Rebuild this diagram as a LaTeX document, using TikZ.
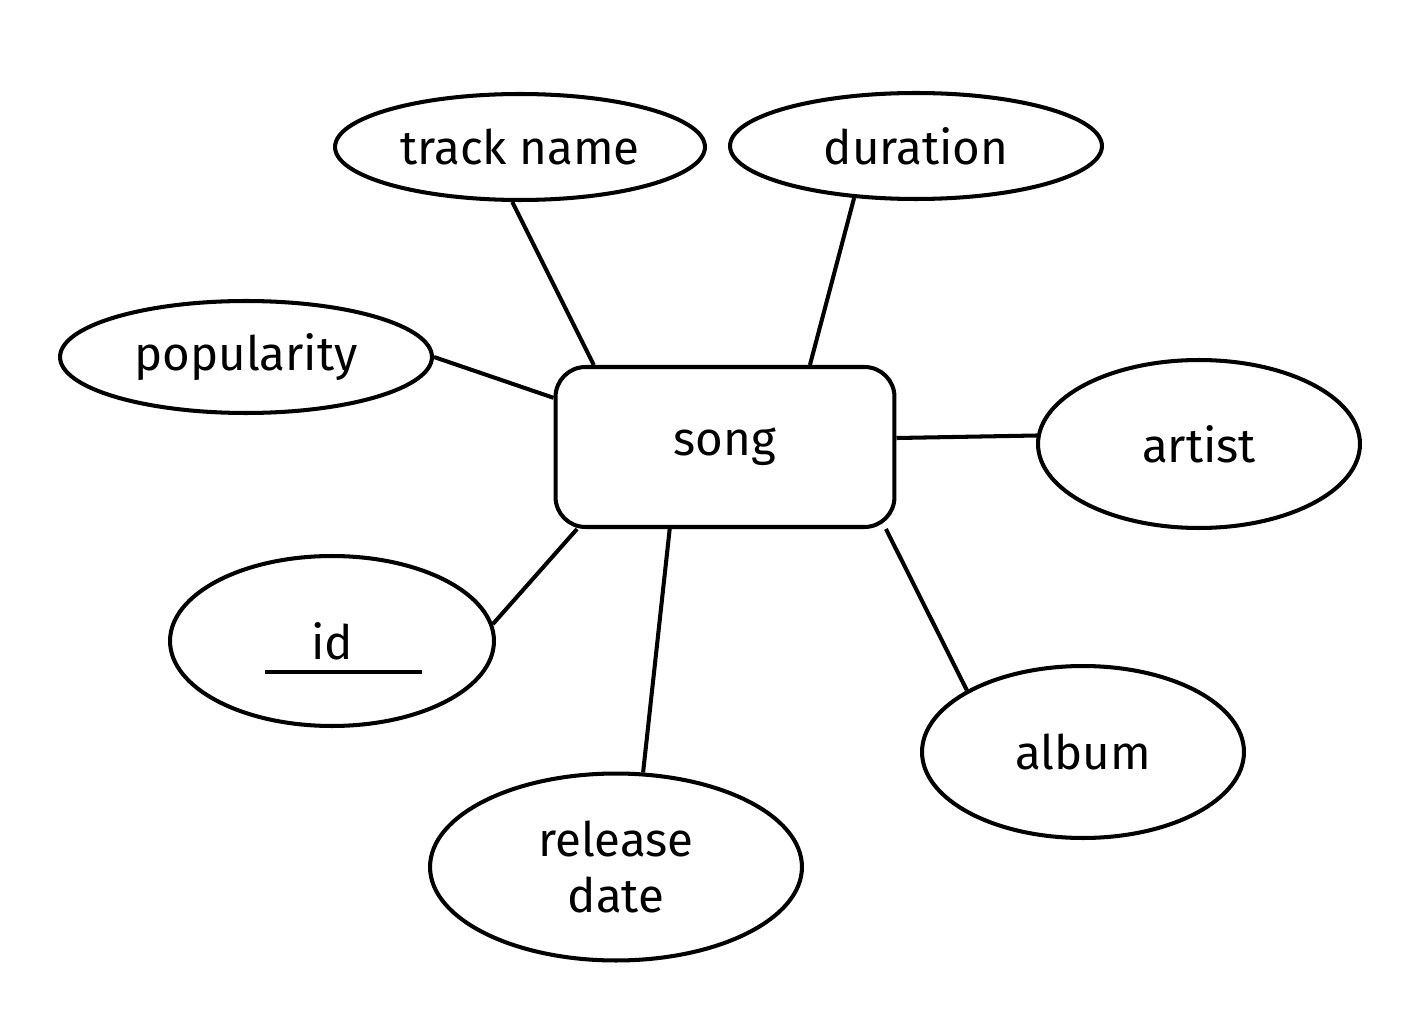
\documentclass[tikz,border=0pt]{standalone}
\usepackage{fontspec}
\setmainfont{Fira Sans}
\usetikzlibrary{shapes.geometric}
\begin{document}
\begin{tikzpicture}[x=0.02cm, y=-0.02cm, every node/.style={font=\fontsize{27}{32}\selectfont,align=center},
 attr/.style={draw, ellipse, line width=2.3pt, inner sep=0pt},
 entity/.style={draw, rectangle, rounded corners=0.6cm, line width=2.3pt, minimum width=6.78cm, minimum height=3.2cm},
 link/.style={line width=2.3pt}]
\useasboundingbox (0,0) rectangle (1410,1030);
\node[entity] (song) at (725,447) {song};
\node[attr, minimum width=7.4cm, minimum height=2.12cm] (track) at (520,147) {track name};
\node[attr, minimum width=7.44cm, minimum height=2.12cm] (duration) at (916,146) {duration};
\node[attr, minimum width=7.44cm, minimum height=2.24cm] (popularity) at (246,357) {popularity};
\node[attr, minimum width=6.44cm, minimum height=3.36cm] (artist) at (1199,444) {artist};
\node[attr, minimum width=6.48cm, minimum height=3.4cm] (id) at (332,641) {id};
\node[attr, minimum width=6.44cm, minimum height=3.44cm] (album) at (1083,752) {album};
\node[attr, minimum width=7.44cm, minimum height=3.74cm] (release) at (616,867) {release\\date};
% key underline
\draw[link] ([xshift=-1.34cm,yshift=-0.62cm]id.center) -- ++(3.14cm,0);
\draw[link] (track.262) -- (song.148);
\draw[link] (duration.220) -- (song.44);
\draw[link] (popularity.0) -- (song.164);
\draw[link] (artist.177) -- (song.3);
\draw[link] (id.6) -- (song.209);
\draw[link] (album.152) -- (song.-27);
\draw[link] (release.74) -- (song.-124);
\end{tikzpicture}
\end{document}
